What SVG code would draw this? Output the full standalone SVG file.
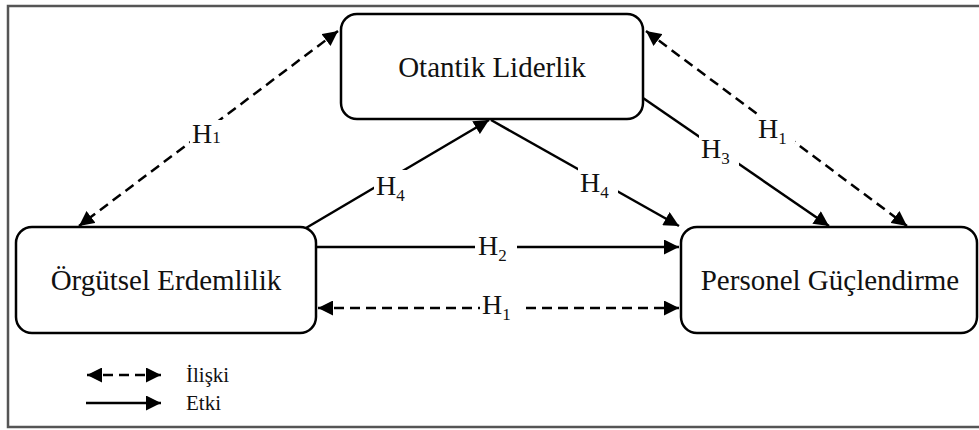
<svg xmlns="http://www.w3.org/2000/svg" width="979" height="430" viewBox="0 0 979 430">
  <defs>
    <marker id="head" viewBox="0 0 10 10" refX="10" refY="5" markerWidth="6.2" markerHeight="6" markerUnits="strokeWidth" orient="auto-start-reverse">
      <path d="M0,0 L10,5 L0,10 z" fill="#000"/>
    </marker>
    <style>
      .node { fill: #fff; stroke: #000; stroke-width: 2.5; }
      .label { font-family: "Liberation Serif", "DejaVu Serif", serif; font-size: 29px; fill: #111; text-anchor: middle; }
      .h { font-family: "Liberation Serif", "DejaVu Serif", serif; font-size: 28px; fill: #111; }
      .sub { font-size: 17px; }
      .solid { stroke: #000; stroke-width: 2.5; fill: none; marker-end: url(#head); }
      .dash { stroke: #000; stroke-width: 2.5; fill: none; stroke-dasharray: 10 6; marker-start: url(#head); marker-end: url(#head); }
      .legend { font-family: "Liberation Serif", "DejaVu Serif", serif; font-size: 21px; fill: #111; }
      .mask { fill: #fff; }
    </style>
  </defs>

  <rect x="0" y="0" width="979" height="430" fill="#fff"/>
  <!-- outer frame -->
  <rect x="8" y="6" width="980" height="421" fill="none" stroke="#555" stroke-width="2.5"/>

  <!-- connectors -->
  <g id="connectors">
    <line class="dash" x1="338" y1="31" x2="79" y2="226"/>
    <line class="dash" x1="646" y1="31" x2="907" y2="226"/>
    <line class="solid" x1="643" y1="98" x2="829" y2="226"/>
    <line class="solid" x1="306" y1="228" x2="489" y2="120"/>
    <line class="solid" x1="491" y1="120" x2="679" y2="226"/>
    <line class="solid" x1="317" y1="247" x2="679" y2="247"/>
    <line class="dash" x1="318" y1="308" x2="679" y2="308"/>

    <!-- label backgrounds break the lines -->
    <rect class="mask" x="190" y="120" width="38" height="26"/>
    <rect class="mask" x="755" y="115" width="40" height="28"/>
    <rect class="mask" x="699" y="134" width="40" height="32"/>
    <rect class="mask" x="374" y="170" width="40" height="32"/>
    <rect class="mask" x="578" y="167" width="40" height="32"/>
    <rect class="mask" x="475" y="231" width="42" height="30"/>
    <rect class="mask" x="480" y="291" width="40" height="30"/>

    <text class="h" x="192" y="143">H<tspan class="sub" dy="0">1</tspan></text>
    <text class="h" x="758" y="138">H<tspan class="sub" dy="6">1</tspan></text>
    <text class="h" x="701" y="158">H<tspan class="sub" dy="6">3</tspan></text>
    <text class="h" x="376" y="195">H<tspan class="sub" dy="6">4</tspan></text>
    <text class="h" x="580" y="192">H<tspan class="sub" dy="6">4</tspan></text>
    <text class="h" x="478" y="255">H<tspan class="sub" dy="6">2</tspan></text>
    <text class="h" x="482" y="314">H<tspan class="sub" dy="6">1</tspan></text>
  </g>

  <!-- nodes -->
  <g id="otantik-liderlik">
    <rect class="node" x="341" y="14" width="302" height="105" rx="16"/>
    <text class="label" x="492" y="77">Otantik Liderlik</text>
  </g>
  <g id="orgutsel-erdemlilik">
    <rect class="node" x="16" y="227" width="300" height="106" rx="16"/>
    <text class="label" x="166" y="290">Örgütsel Erdemlilik</text>
  </g>
  <g id="personel-guclendirme">
    <rect class="node" x="681" y="227" width="296" height="106" rx="16"/>
    <text class="label" x="830" y="290">Personel Güçlendirme</text>
  </g>

  <!-- legend -->
  <g id="legend">
    <line class="dash" x1="87" y1="375" x2="161" y2="375"/>
    <text class="legend" x="186" y="382">İlişki</text>
    <line class="solid" x1="86" y1="403" x2="161" y2="403"/>
    <text class="legend" x="186" y="410">Etki</text>
  </g>
</svg>
